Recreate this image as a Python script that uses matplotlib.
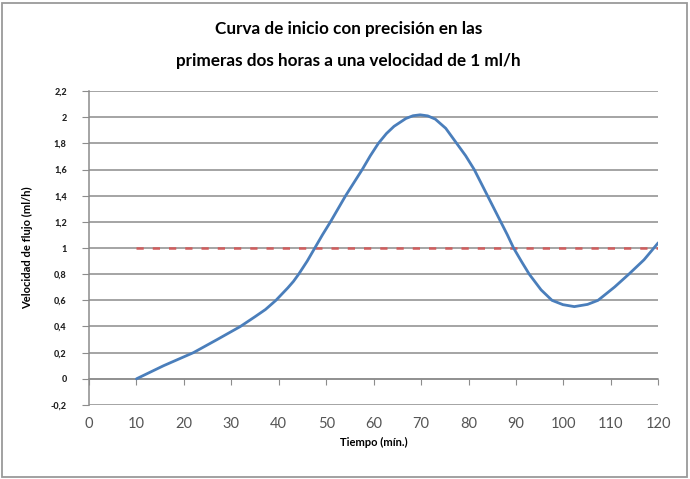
import matplotlib.pyplot as plt
from matplotlib.patches import Rectangle

# Valores
tiempo = [10, 15.7, 22, 27, 31.9, 35, 37.2, 39.4, 41.9, 43.1, 44.2, 46, 47.6,
          49.2, 50.9, 54.1, 57.6, 59.3, 61.0, 62.7, 64.3, 66.8, 68.3, 69.8,
          71.4, 73.0, 75.2, 77.5, 79.4, 81.2, 84.0, 86.8, 88.2, 89.5, 91.2,
          92.8, 95.3, 97.6, 99.9, 102.3, 105.1, 107.3, 110.8, 113.8, 117, 120]
velocidad = [0.0, 0.10, 0.2, 0.3, 0.4, 0.475, 0.53, 0.6, 0.695, 0.745, 0.8,
             0.9, 1.0, 1.1, 1.2, 1.4, 1.6, 1.705, 1.8, 1.875, 1.93, 1.99,
             2.011, 2.018, 2.01, 1.985, 1.915, 1.8, 1.705, 1.6, 1.4, 1.2, 1.1,
             1.0, 0.895, 0.8, 0.68, 0.6, 0.567, 0.552, 0.569, 0.6, 0.702, 0.8,
             0.91, 1.04]
referencia_t = [10, 120]
referencia_v = [1, 1]

x_ticks = list(range(0, 121, 10))
y_ticks = [-0.2, 0, 0.2, 0.4, 0.6, 0.8, 1, 1.2, 1.4, 1.6, 1.8, 2, 2.2]
y_labels = ["-0,2", "0", "0,2", "0,4", "0,6", "0,8", "1", "1,2", "1,4",
            "1,6", "1,8", "2", "2,2"]

plt.rcParams['font.family'] = ['Lato', 'DejaVu Sans']

fig = plt.figure(figsize=(6.9, 4.79), dpi=100)
ax = fig.add_axes([0.129, 0.1545, 0.825, 0.6555])

grid_color = '#8c8c8c'
for y in y_ticks:
    ax.axhline(y, color=grid_color, lw=1.1, zorder=1)

ax.plot(referencia_t, referencia_v, color='#d05c5c', lw=1.8,
        dashes=(2.9, 3.6), zorder=2)
ax.plot(tiempo, velocidad, color='#4a7ebb', lw=2.0, zorder=3,
        solid_capstyle='round', solid_joinstyle='round')

ax.set_xlim(0, 120)
ax.set_ylim(-0.2, 2.2)

for s in ['top', 'right', 'bottom']:
    ax.spines[s].set_visible(False)
ax.spines['left'].set_color(grid_color)
ax.spines['left'].set_linewidth(1.1)

ax.set_yticks(y_ticks)
ax.set_yticklabels(y_labels, fontsize=6.5, fontweight='black', color='#222222')
ax.tick_params(axis='y', direction='out', length=5, color=grid_color, pad=11)

ax.set_xticks(x_ticks)
ax.set_xticklabels([str(t) for t in x_ticks], fontsize=10.5, color='#555555')
ax.tick_params(axis='x', length=0, pad=9)

# eje horizontal en cero con marcas hacia abajo
sec = ax.secondary_xaxis(0.2 / 2.4)
sec.set_xticks(x_ticks)
sec.tick_params(axis='x', direction='out', length=4, color=grid_color,
                labelbottom=False)
sec.spines['bottom'].set_color(grid_color)
sec.spines['bottom'].set_linewidth(1.1)

ax.set_xlabel("Tiempo (mín.)", fontsize=8, fontweight='bold', labelpad=4)
ax.set_ylabel("Velocidad de flujo (ml/h)", fontsize=8, fontweight='bold',
              labelpad=13)

fig.text(0.505, 0.940, "Curva de inicio con precisión en las",
         ha='center', va='center', fontsize=12.3, fontweight='bold')
fig.text(0.505, 0.873, "primeras dos horas a una velocidad de 1 ml/h",
         ha='center', va='center', fontsize=12.3, fontweight='bold')

fig.patches.append(Rectangle((0.003, 0.004), 0.992, 0.99, transform=fig.transFigure,
                             fill=False, edgecolor='#9a9a9a', lw=1.3))

fig.savefig("out.png", dpi=100)
